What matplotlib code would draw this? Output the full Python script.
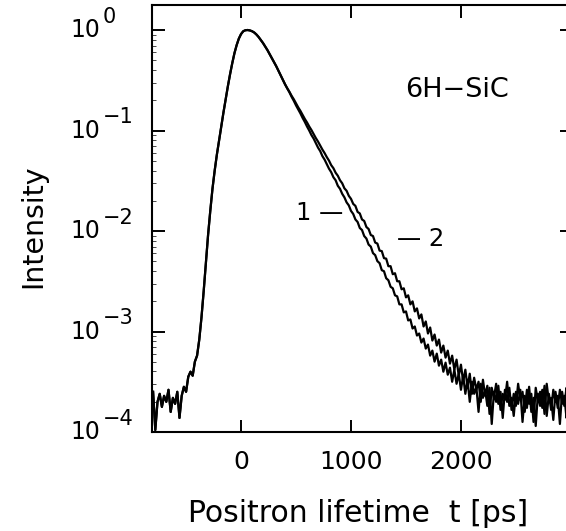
import numpy as np
import matplotlib
matplotlib.use('Agg')
import matplotlib.pyplot as plt
import matplotlib.transforms as mtransforms
from matplotlib.ticker import LogLocator, NullFormatter, NullLocator

# ---- data (log10 of normalised intensity), 20 ps channels ----
channel_width = 20   # ps
t_first = -800       # ps, first channel

# common part of both spectra: background + rise + peak (-800 .. 400 ps)
shared_log = [
    -3.60, -3.98, -3.70, -3.62, -3.75, -3.64, -3.70, -3.58, -3.80, -3.66,
    -3.72, -3.60, -3.86, -3.64, -3.55, -3.60, -3.45, -3.40,
    -3.44, -3.30, -3.24, -3.08, -2.86, -2.60, -2.32, -2.04, -1.80, -1.58,
    -1.40, -1.24, -1.10, -0.96, -0.82, -0.69, -0.56, -0.44, -0.33, -0.23,
    -0.15, -0.085, -0.04, -0.012, -0.002, 0.0, -0.004, -0.012, -0.025, -0.045,
    -0.07, -0.10, -0.13, -0.165, -0.20, -0.24, -0.28, -0.32, -0.36, -0.405,
    -0.45, -0.495, -0.54,
]

# decay of spectrum 1 (420 .. 3000 ps)
tail1_log = [
    -0.58, -0.62, -0.665, -0.705, -0.75, -0.79, -0.83, -0.875, -0.915, -0.96,
    -1.00, -1.045, -1.08, -1.125, -1.17, -1.205, -1.255, -1.29, -1.335, -1.38,
    -1.415, -1.465, -1.495, -1.55, -1.58, -1.63, -1.665, -1.715, -1.745, -1.80,
    -1.83, -1.885, -1.91, -1.97, -1.99, -2.05, -2.075, -2.135, -2.155, -2.22,
    -2.24, -2.30, -2.32, -2.39, -2.40, -2.47, -2.49, -2.555, -2.57, -2.64,
    -2.65, -2.73, -2.73, -2.81, -2.80, -2.89, -2.88, -2.97, -2.95, -3.04,
    -3.02, -3.11, -3.07, -3.17, -3.13, -3.24, -3.19, -3.30, -3.22, -3.34,
    -3.28, -3.40, -3.31, -3.43, -3.36, -3.50, -3.38, -3.52, -3.42, -3.58,
    -3.44, -3.62, -3.48, -3.70, -3.50, -3.62, -3.55, -3.80, -3.52, -3.66,
    -3.58, -3.74, -3.56, -3.92, -3.60, -3.70, -3.54, -3.78, -3.62, -3.68,
    -3.50, -3.74, -3.66, -3.84, -3.60, -3.72, -3.58, -3.90, -3.64, -3.76,
    -3.55, -3.80, -3.66, -3.94, -3.62, -3.74, -3.58, -3.82, -3.52, -3.70,
    -3.66, -3.88, -3.60, -3.76, -3.58, -3.72, -3.64, -3.86, -3.62, -3.74,
]

# decay of spectrum 2 (420 .. 3000 ps)
tail2_log = [
    -0.58, -0.615, -0.655, -0.69, -0.73, -0.77, -0.805, -0.845, -0.885, -0.92,
    -0.96, -0.995, -1.035, -1.075, -1.11, -1.15, -1.19, -1.225, -1.265, -1.30,
    -1.345, -1.375, -1.42, -1.45, -1.495, -1.525, -1.575, -1.60, -1.65, -1.68,
    -1.73, -1.75, -1.81, -1.825, -1.885, -1.90, -1.96, -1.98, -2.04, -2.05,
    -2.115, -2.125, -2.195, -2.20, -2.27, -2.275, -2.35, -2.35, -2.43, -2.42,
    -2.50, -2.50, -2.58, -2.57, -2.66, -2.64, -2.73, -2.70, -2.80, -2.77,
    -2.87, -2.83, -2.95, -2.90, -3.02, -2.96, -3.09, -3.03, -3.14, -3.08,
    -3.21, -3.14, -3.26, -3.19, -3.32, -3.24, -3.38, -3.28, -3.44, -3.33,
    -3.50, -3.38, -3.56, -3.42, -3.62, -3.46, -3.58, -3.50, -3.70, -3.48,
    -3.64, -3.54, -3.82, -3.56, -3.66, -3.52, -3.72, -3.60, -3.86, -3.58,
    -3.70, -3.56, -3.78, -3.62, -3.74, -3.52, -3.68, -3.60, -3.80, -3.58,
    -3.72, -3.62, -3.90, -3.56, -3.70, -3.60, -3.76, -3.54, -3.84, -3.62,
    -3.78, -3.58, -3.70, -3.64, -3.92, -3.60, -3.74, -3.56, -3.80, -3.66,
]

x_ticks = [0, 1000, 2000]
y_decades = [0, -1, -2, -3, -4]
y_exponents = ['0', '\u22121', '\u22122', '\u22123', '\u22124']

sample_name = '6H\u2212SiC'
x_label = 'Positron lifetime  t [ps]'
y_label = 'Intensity'

plt.rcParams['font.family'] = ['DejaVu Sans']

t_shared = t_first + channel_width * np.arange(len(shared_log))
t_tail = t_shared[-1] + channel_width * (1 + np.arange(len(tail1_log)))

t1 = np.concatenate([t_shared, t_tail])
t2 = np.concatenate([t_shared, t_tail])
y1 = 10.0 ** np.array(shared_log + tail1_log)
y2 = 10.0 ** np.array(shared_log + tail2_log)

fig = plt.figure(figsize=(5.66, 5.31), dpi=100)
# right spine sits just outside the picture like in the scanned figure
ax = fig.add_axes([152 / 566, 99 / 531, 420 / 566, 427 / 531])

ax.plot(t1, y1, color='k', lw=1.6)
ax.plot(t2, y2, color='k', lw=1.6)

ax.set_yscale('log')
ax.set_xlim(-810, 3010)
ax.set_ylim(1e-4, 10 ** 0.249)

for s in ax.spines.values():
    s.set_linewidth(1.5)

ax.set_xticks(x_ticks)
ax.xaxis.set_minor_locator(NullLocator())
ax.tick_params(axis='x', which='major', direction='in', length=9, width=1.4,
               top=True, bottom=True, labelsize=18, pad=13)
ax.yaxis.set_major_locator(LogLocator(base=10, numticks=10))
ax.yaxis.set_minor_locator(LogLocator(base=10, subs=np.arange(2, 10), numticks=10))
ax.yaxis.set_major_formatter(NullFormatter())
ax.yaxis.set_minor_formatter(NullFormatter())
ax.tick_params(axis='y', which='major', direction='in', length=9, width=1.4,
               left=True, right=True)
ax.tick_params(axis='y', which='minor', direction='in', length=3, width=0.5,
               left=True, right=False)

# y tick labels: "10" with a large raised exponent
trans = mtransforms.blended_transform_factory(ax.transAxes, ax.transData)
for d, e in zip(y_decades, y_exponents):
    ax.text(-0.124, 10.0 ** d, '10', transform=trans, ha='right', va='center',
            fontsize=17)
    ax.annotate(e, xy=(-0.117, 10.0 ** d), xycoords=trans,
                xytext=(0, 9.5), textcoords='offset points',
                ha='left', va='center', fontsize=15)

# labels inside the plot
ax.text(1490, 10 ** -0.6, sample_name, ha='left', va='center', fontsize=19.5)
ax.text(500, 10 ** -1.82, '1 \u2014', ha='left', va='center', fontsize=17.5)
ax.text(1418, 10 ** -2.08, '\u2014 2', ha='left', va='center', fontsize=17.5)

fig.text(358 / 566, 1 - 513 / 531, x_label, ha='center', va='center', fontsize=21.5)
fig.text(33 / 566, 1 - 226 / 531, y_label, ha='center', va='center',
         rotation=90, fontsize=20.5)

fig.savefig('out.png', dpi=100)
plt.close(fig)
